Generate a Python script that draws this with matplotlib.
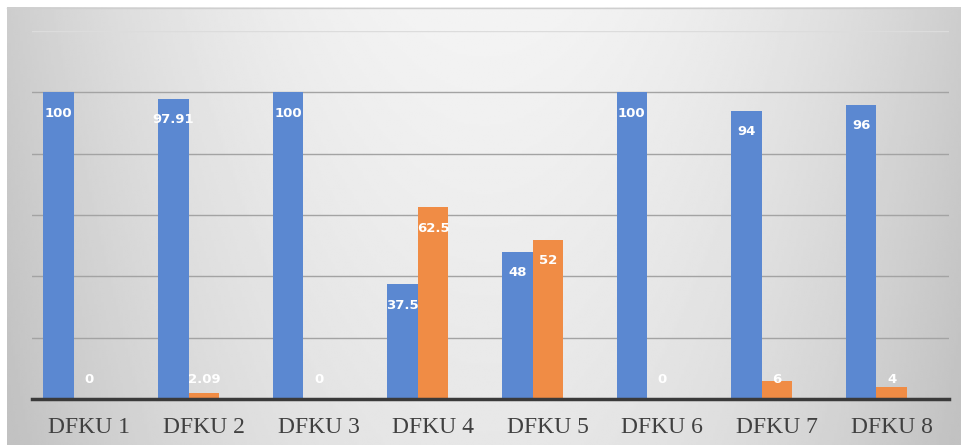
import matplotlib.pyplot as plt
import numpy as np

categories = ['DFKU 1', 'DFKU 2', 'DFKU 3', 'DFKU 4', 'DFKU 5', 'DFKU 6', 'DFKU 7', 'DFKU 8']
series_a = [100, 97.91, 100, 37.5, 48, 100, 94, 96]
series_b = [0, 2.09, 0, 62.5, 52, 0, 6, 4]
series_c = [0, 0, 0, 0, 0, 0, 0, 0]  # empty third series, only takes up room
label_a = ['100', '97.91', '100', '37.5', '48', '100', '94', '96']
label_b = ['0', '2.09', '0', '62.5', '52', '0', '6', '4']

W, H = 962, 447
fig = plt.figure(figsize=(W / 100, H / 100), dpi=100, facecolor='white')

# gray card, lighter in the middle
bg = fig.add_axes([0, 0, 1, 1])
bg.set_xlim(0, W)
bg.set_ylim(H, 0)
bg.axis('off')
gx, gy = np.meshgrid(np.linspace(0, 1, 400), np.linspace(0, 1, 200))
shade = 0.955 - 0.15 * ((gx - 0.5) / 0.5) ** 2 - 0.05 * gy
shade = np.clip(shade, 0.76, 0.97)
bg.imshow(shade, cmap='gray', vmin=0, vmax=1, extent=(7, W, 445, 7),
          aspect='auto', interpolation='bilinear')
bg.plot([7, W], [7.5, 7.5], color='#cfcfcf', lw=1)

ax = fig.add_axes([32 / W, (H - 399) / H, (949 - 32) / W, (399 - 31) / H])
ax.patch.set_alpha(0)

x = np.arange(len(categories))
w = 0.267
ax.bar(x - w, series_a, w, color='#5b88d1', zorder=3)
ax.bar(x, series_b, w, color='#f08c45', zorder=3)
ax.bar(x + w, series_c, w, color='none', zorder=3)

for i in range(len(categories)):
    ax.text(x[i] - w, max(series_a[i] - 6.9, 6.2), label_a[i], ha='center', va='center',
            color='white', fontsize=9.5, fontweight='bold', zorder=4)
    ax.text(x[i], max(series_b[i] - 6.9, 6.2), label_b[i], ha='center', va='center',
            color='white', fontsize=9.5, fontweight='bold', zorder=4)

ax.set_xlim(-0.5, len(categories) - 0.5)
ax.set_ylim(0, 120)
ax.set_yticks([20, 40, 60, 80, 100, 120])
ax.yaxis.grid(True, color='#a3a3a3', lw=1, zorder=0)
ax.get_ygridlines()[-1].set_color('#dcdcdc')
ax.tick_params(axis='y', length=0, labelleft=False)

ax.set_xticks(x)
ax.set_xticklabels(categories, family='Liberation Serif', fontsize=17, color='#404040')
ax.tick_params(axis='x', length=0, pad=13)

for s in ['top', 'left', 'right']:
    ax.spines[s].set_visible(False)
ax.spines['bottom'].set_color('#3a3a3a')
ax.spines['bottom'].set_linewidth(2.5)
ax.spines['bottom'].set_zorder(5)

fig.savefig('out.png', dpi=100, facecolor='white')
